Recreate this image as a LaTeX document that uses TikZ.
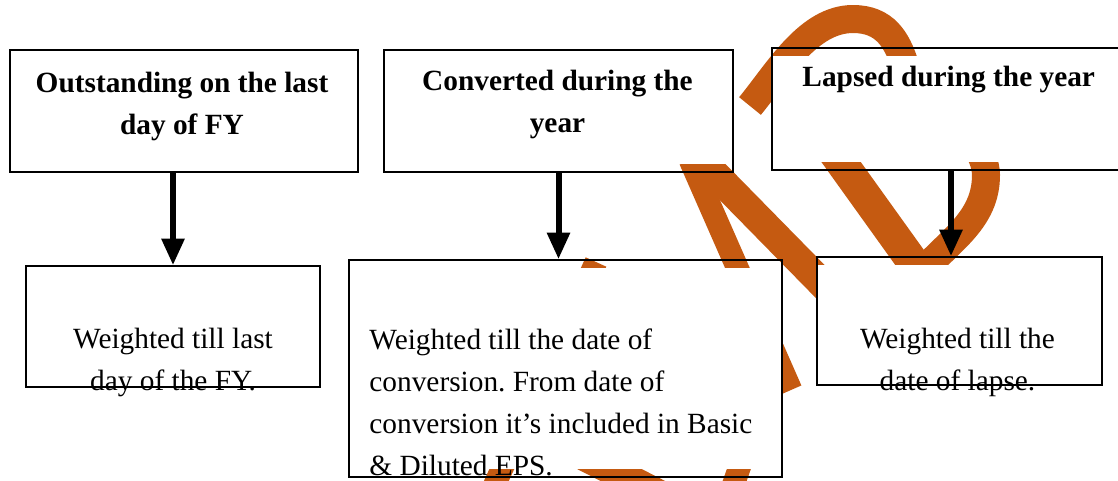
\documentclass[tikz,border=0pt]{standalone}
\usepackage{fontspec}
\setmainfont{Liberation Serif}
\frenchspacing
\usetikzlibrary{arrows.meta,calc,backgrounds}

\tikzset{
  box/.style={draw, line width=1.2pt, inner sep=0pt},
  head/.style={font=\fontsize{22}{31.5}\selectfont\bfseries, align=center, inner sep=0pt},
  body/.style={font=\fontsize{22}{31.5}\selectfont, inner sep=0pt},
  flow/.style={line width=4.5pt, -{Triangle[width=16.5pt,length=20pt]}},
  logo/.style={draw=logoorange, line width=21pt},
}

\begin{document}
\begin{tikzpicture}[x=0.75pt,y=-0.75pt]

    % Define colors
    \definecolor{logoorange}{RGB}{197,90,17}

    \useasboundingbox (0,0) rectangle (1118,480);

    %-------------
    % Top row
    \node[box, minimum width=261pt, minimum height=91.5pt] (outBox) at (184,111) {};
    \node[box, minimum width=261.75pt, minimum height=91.5pt] (convBox) at (558.5,111) {};
    \node[box, minimum width=268.5pt, minimum height=91.5pt] (lapseBox) at (951,109) {};

    \node[head, anchor=north] (outHead) at ($(outBox.north)+(-2,23)$) {Outstanding on the last\\day of FY};
    \node[head, anchor=north] (convHead) at ($(convBox.north)+(-1,21)$) {Converted during the\\year};
    \node[head, anchor=north west] (lapseHead) at ($(lapseBox.north west)+(31,19)$) {Lapsed during the year};

    %-------------
    % Second row
    \node[box, minimum width=220.5pt, minimum height=90.75pt] (outWt) at (173,326.5) {};
    \node[box, minimum width=324.75pt, minimum height=162.75pt] (convWt) at (565.5,368.5) {};
    \node[box, minimum width=213.75pt, minimum height=96pt] (lapseWt) at (959.5,321) {};

    \node[body, align=center, anchor=north] (outTxt) at ($(outWt.north)+(0,63)$) {Weighted till last\\day of the FY.};
    \node[body, align=left, anchor=north west] (convTxt) at ($(convWt.north west)+(21,69)$) {Weighted till the date of\\conversion. From date of\\conversion it’s included in Basic\\\& Diluted EPS.};
    \node[body, align=center, anchor=north] (lapseTxt) at ($(lapseWt.north)+(-2,72)$) {Weighted till the\\date of lapse.};

    %-------------
    \draw[flow] (outBox.south -| outWt.north) -- (outWt.north);
    \draw[flow] (convBox.south) -- (convBox.south |- convWt.north);
    \draw[flow] (lapseBox.south) -- (lapseBox.south |- lapseWt.north);

    %-------------
    % Mark behind the boxes
    \begin{scope}[on background layer]
        \draw[logo] (750,106) .. controls (778,72) and (808,19) .. (853,19)
            .. controls (885,19) and (897,40) .. (905,65)
            .. controls (915,100) and (985,130) .. (986,175)
            .. controls (986,220) and (950,240) .. (922,272);
        \draw[logo, line width=24pt] (793,95) -- (920,272);
        \draw[logo, line width=17pt] (791,390) -- (690,160);
        \draw[logo, line width=22pt] (701,160) -- (858,320);
        \draw[logo, line width=17pt] (596,262) -- (490,495);
        \draw[logo, line width=22pt] (470,398) -- (680,505);
        \draw[logo, line width=17pt] (770,380) -- (728,500);

        \fill[white] ($(convBox.north west)+(0,9)$) rectangle ($(convBox.south east)+(0,-9)$);
        \fill[white] ($(lapseBox.north west)+(0,9)$) rectangle ($(lapseBox.south east)+(0,-9)$);
        \fill[white] ($(convWt.north west)+(0,9)$) rectangle ($(convWt.south east)+(0,-9)$);
        \fill[white] ($(lapseWt.north west)+(0,9)$) rectangle ($(lapseWt.south east)+(0,-9)$);
    \end{scope}

\end{tikzpicture}
\end{document}
